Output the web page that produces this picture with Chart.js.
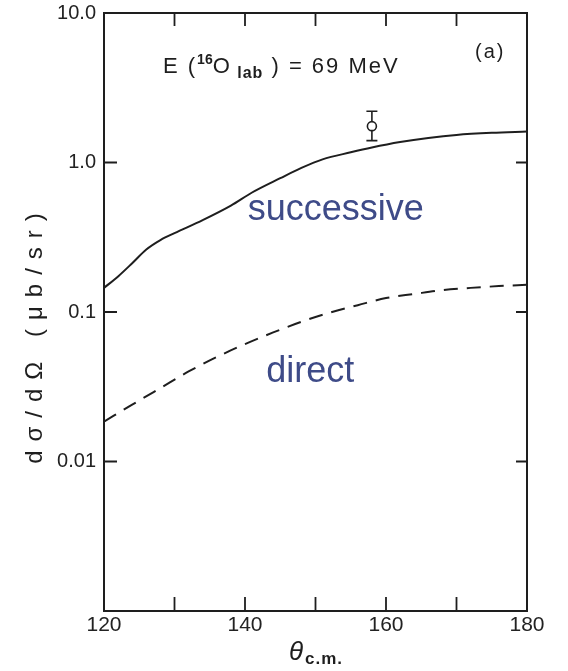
<!DOCTYPE html>
<html>
<head>
<meta charset="utf-8">
<script src="https://cdn.jsdelivr.net/npm/chart.js@4.4.1/dist/chart.umd.min.js"></script>
<style>
  html, body { margin: 0; padding: 0; background: #fff; }
  canvas { display: block; }
</style>
</head>
<body>
<canvas id="chart" width="568" height="671"></canvas>
<script>
// Angular distribution, E(16O lab) = 69 MeV
const thetaSuccessive = [120, 122, 124, 126, 128, 130, 134, 138, 141, 145, 148, 151, 155, 158, 162, 166, 170, 175, 180];
const sigmaSuccessive = [0.145, 0.173, 0.212, 0.262, 0.303, 0.337, 0.412, 0.515, 0.630, 0.785, 0.920, 1.05, 1.17, 1.26, 1.37, 1.46, 1.53, 1.58, 1.61];

const thetaDirect = [120, 124, 128, 132, 136, 140, 144, 148, 152, 156, 160, 164, 168, 172, 176, 180];
const sigmaDirect = [0.0185, 0.024, 0.031, 0.040, 0.050, 0.061, 0.073, 0.086, 0.099, 0.111, 0.124, 0.132, 0.140, 0.145, 0.149, 0.152];

const thetaMeasured = [158];
const sigmaMeasured = [1.75];
const sigmaErrLow = [1.40];
const sigmaErrHigh = [2.20];

const xTickValues = [120, 130, 140, 150, 160, 170, 180];
const xTickLabels = ['120', '', '140', '', '160', '', '180'];
const yTickValues = [0.01, 0.1, 1, 10];
const yTickLabels = ['0.01', '0.1', '1.0', '10.0'];

const INK = '#1e1e1e';
const NOTE = '#3e4b88';
const FONT = '"Liberation Sans", Arial, Helvetica, sans-serif';

const toPoints = (xs, ys) => xs.map((x, i) => ({ x: x, y: ys[i] }));

// frame, inward tick marks, error bar and text annotations
const decorations = {
  id: 'decorations',
  beforeDatasetsDraw(chart) {
    const { ctx, scales: { x, y } } = chart;
    ctx.save();
    ctx.strokeStyle = INK;
    ctx.lineWidth = 1.6;
    thetaMeasured.forEach((t, i) => {
      const px = x.getPixelForValue(t);
      const top = y.getPixelForValue(sigmaErrHigh[i]);
      const bot = y.getPixelForValue(sigmaErrLow[i]);
      ctx.beginPath();
      ctx.moveTo(px, top); ctx.lineTo(px, bot);
      ctx.moveTo(px - 5.5, top); ctx.lineTo(px + 5.5, top);
      ctx.moveTo(px - 5.5, bot); ctx.lineTo(px + 5.5, bot);
      ctx.stroke();
    });
    ctx.restore();
  },
  afterDraw(chart) {
    const { ctx, chartArea: a, scales: { x, y } } = chart;
    ctx.save();
    ctx.strokeStyle = INK;
    ctx.lineWidth = 2;
    ctx.strokeRect(a.left, a.top, a.right - a.left, a.bottom - a.top);

    ctx.lineWidth = 1.8;
    ctx.beginPath();
    xTickValues.forEach(v => {
      const px = x.getPixelForValue(v);
      ctx.moveTo(px, a.bottom); ctx.lineTo(px, a.bottom - 14);
      ctx.moveTo(px, a.top); ctx.lineTo(px, a.top + 13);
    });
    yTickValues.forEach(v => {
      const py = y.getPixelForValue(v);
      ctx.moveTo(a.left, py); ctx.lineTo(a.left + 13, py);
      ctx.moveTo(a.right, py); ctx.lineTo(a.right - 11, py);
    });
    ctx.stroke();

    // heading: E(16O lab) = 69 MeV
    ctx.fillStyle = INK;
    ctx.textBaseline = 'alphabetic';
    ctx.textAlign = 'left';
    const runs = [
      ['E (', '22px', 0, '2px'],
      ['16', 'bold 14px', -9, '0px'],
      ['O', '22px', 0, '2px'],
      [' lab', 'bold 16px', 5, '1px'],
      [' ) = 69 MeV', '22px', 0, '2px']
    ];
    let cx = 163;
    runs.forEach(([txt, f, dy, ls]) => {
      ctx.font = f + ' ' + FONT;
      ctx.letterSpacing = ls;
      ctx.fillText(txt, cx, 73 + dy);
      cx += ctx.measureText(txt).width;
    });
    ctx.font = '20px ' + FONT;
    ctx.letterSpacing = '2px';
    ctx.fillText('(a)', 475, 58);

    // curve names
    ctx.letterSpacing = '0px';
    ctx.fillStyle = NOTE;
    ctx.font = '36px ' + FONT;
    ctx.fillText('successive', x.getPixelForValue(140.4), y.getPixelForValue(0.413));
    ctx.fillText('direct', x.getPixelForValue(143.0), y.getPixelForValue(0.034));

    // axis titles
    ctx.fillStyle = INK;
    ctx.font = 'italic 26px ' + FONT;
    ctx.fillText('\u03b8', 289, 660);
    ctx.font = 'bold 17px ' + FONT;
    ctx.letterSpacing = '1px';
    ctx.fillText('c.m.', 305, 664);

    ctx.translate(35, 334);
    ctx.rotate(-Math.PI / 2);
    ctx.textAlign = 'center';
    ctx.textBaseline = 'middle';
    ctx.font = '24px ' + FONT;
    ctx.letterSpacing = '9px';
    ctx.fillText('d\u03c3/d\u03a9 (\u03bcb/sr)', 0, 0);
    ctx.restore();
  }
};

new Chart(document.getElementById('chart'), {
  type: 'line',
  data: {
    datasets: [
      {
        label: 'successive',
        data: toPoints(thetaSuccessive, sigmaSuccessive),
        borderColor: INK,
        borderWidth: 2,
        pointRadius: 0,
        cubicInterpolationMode: 'monotone',
        fill: false
      },
      {
        label: 'direct',
        data: toPoints(thetaDirect, sigmaDirect),
        borderColor: INK,
        borderWidth: 2,
        borderDash: [14, 9],
        pointRadius: 0,
        cubicInterpolationMode: 'monotone',
        fill: false
      },
      {
        label: 'measured',
        type: 'scatter',
        data: toPoints(thetaMeasured, sigmaMeasured),
        showLine: false,
        pointRadius: 4.5,
        pointBackgroundColor: '#ffffff',
        pointBorderColor: INK,
        pointBorderWidth: 1.6
      }
    ]
  },
  options: {
    responsive: false,
    animation: false,
    devicePixelRatio: 1,
    layout: { padding: { left: 0, top: 13, right: 41, bottom: 0 } },
    plugins: { legend: { display: false }, tooltip: { enabled: false } },
    scales: {
      x: {
        type: 'linear',
        min: 120,
        max: 180,
        afterFit: s => { s.height = 60; s.paddingLeft = 0; s.paddingRight = 0; },
        afterBuildTicks: s => { s.ticks = xTickValues.map(v => ({ value: v })); },
        grid: { display: false, drawTicks: false },
        border: { display: false },
        ticks: {
          padding: 2,
          color: '#222',
          font: { family: FONT, size: 21 },
          maxRotation: 0,
          autoSkip: false,
          callback: (v, i) => xTickLabels[i]
        }
      },
      y: {
        type: 'logarithmic',
        min: 0.001,
        max: 10,
        afterFit: s => { s.width = 104; s.paddingTop = 0; s.paddingBottom = 0; },
        afterBuildTicks: s => { s.ticks = yTickValues.map(v => ({ value: v })); },
        grid: { display: false, drawTicks: false },
        border: { display: false },
        ticks: {
          padding: 8,
          color: '#222',
          font: { family: FONT, size: 20 },
          autoSkip: false,
          callback: (v, i) => yTickLabels[i]
        }
      }
    }
  },
  plugins: [decorations]
});
</script>
</body>
</html>
